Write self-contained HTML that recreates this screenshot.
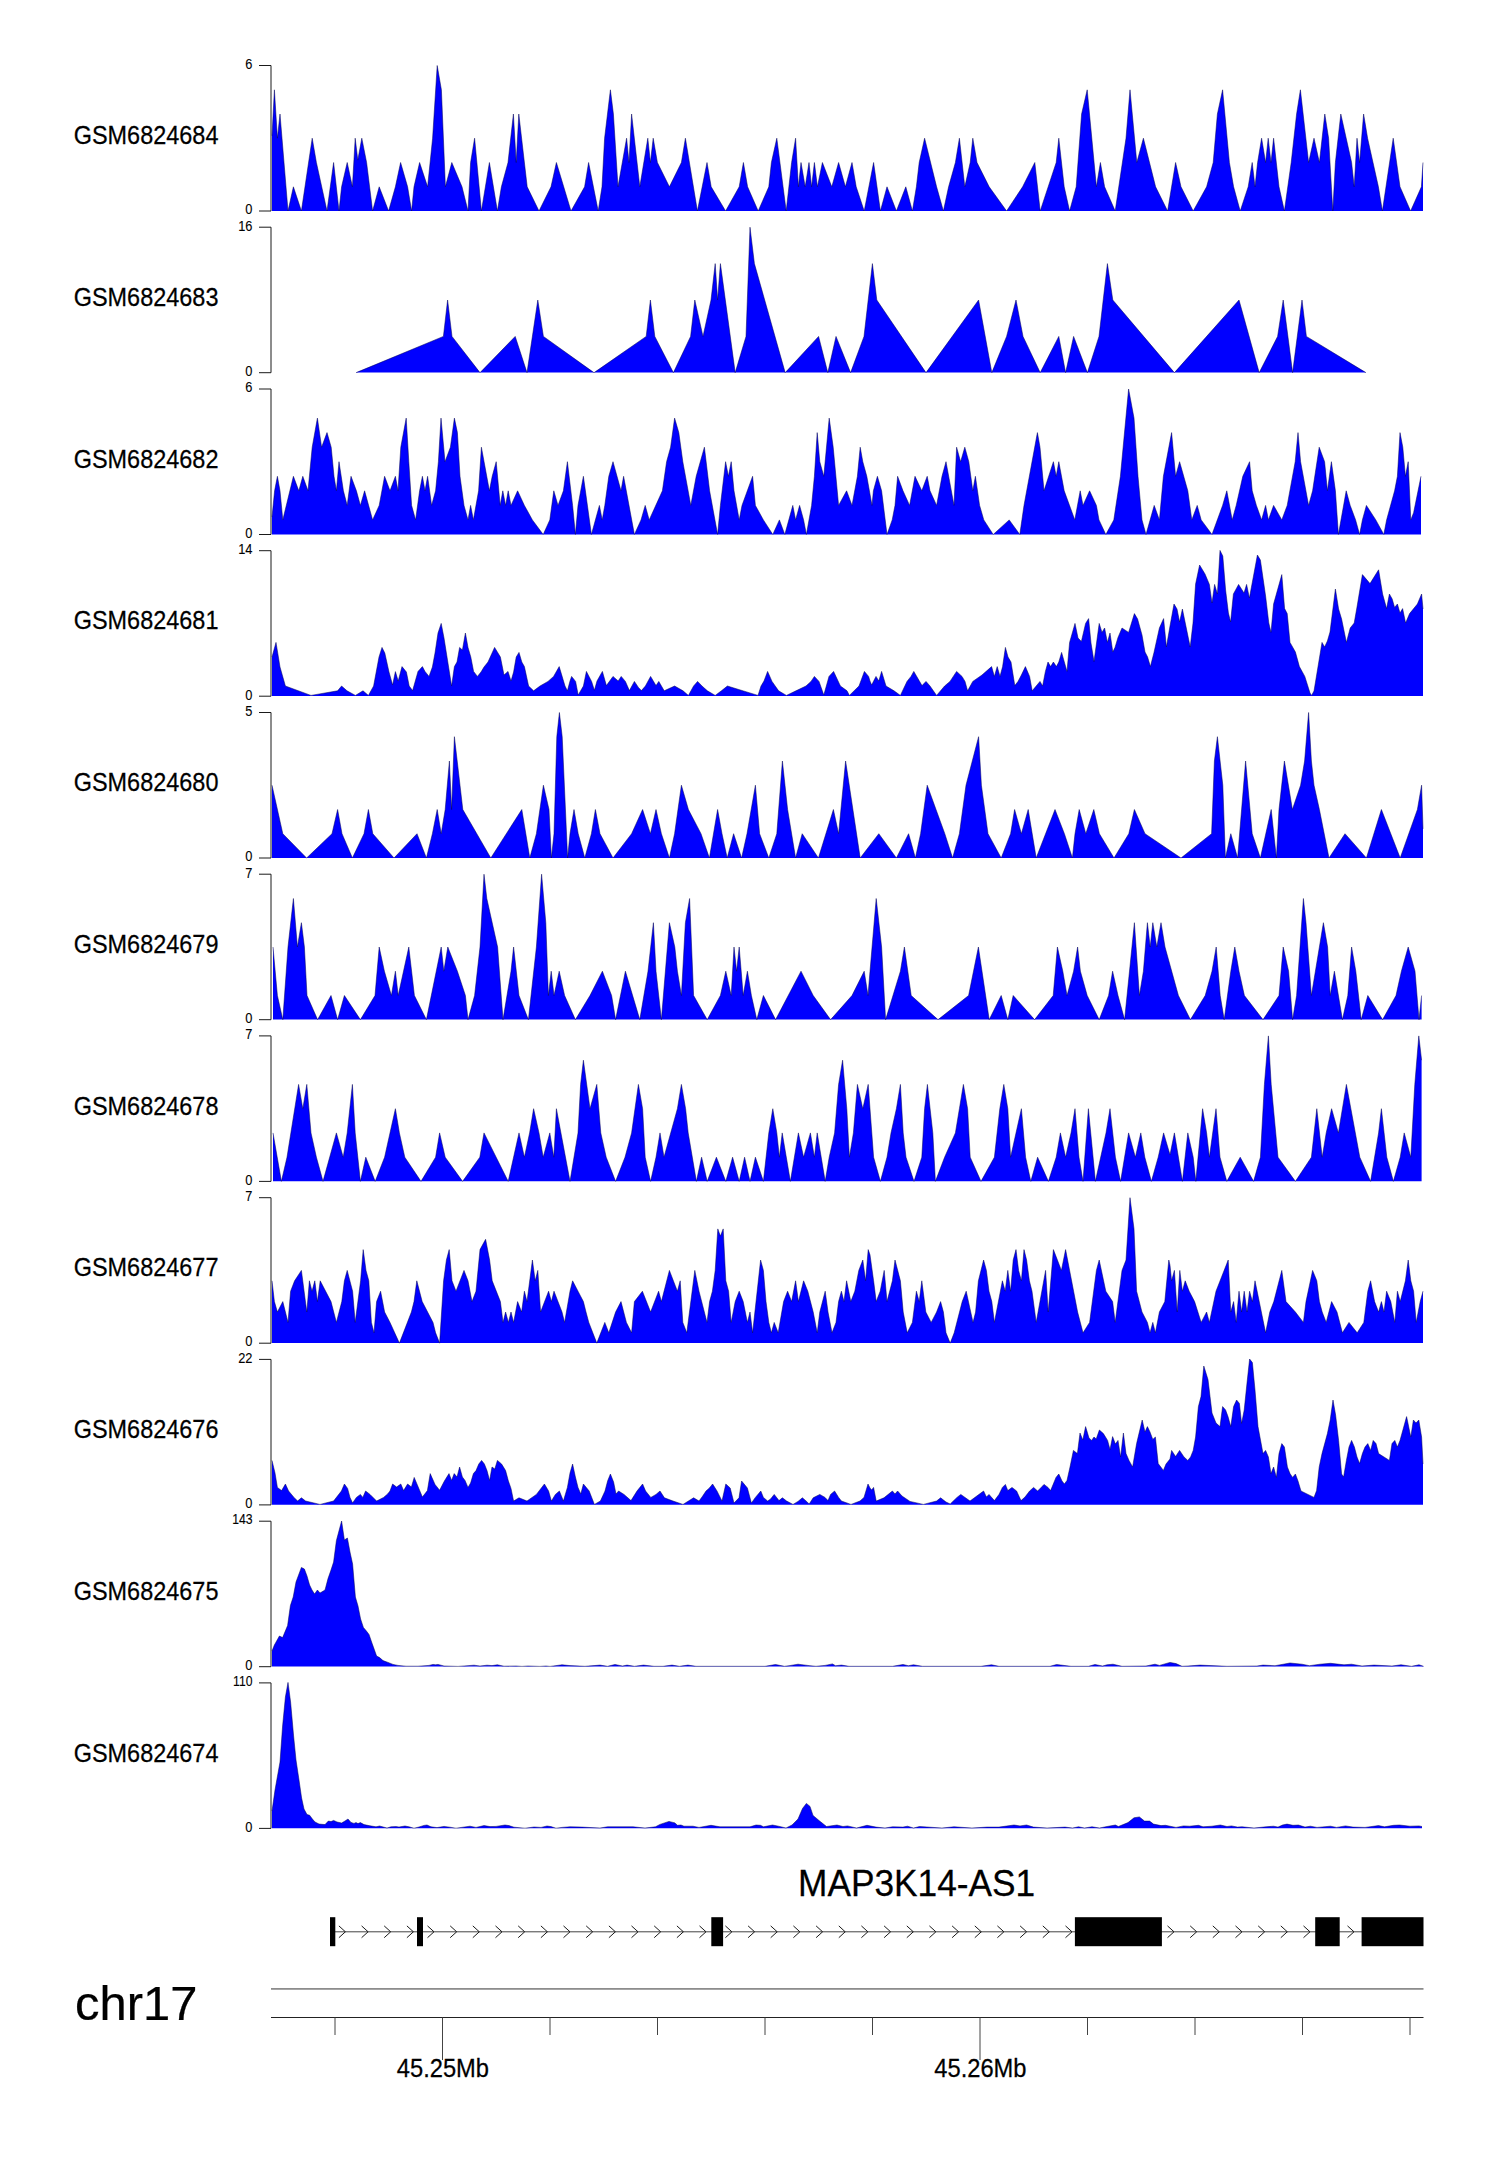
<!DOCTYPE html>
<html><head><meta charset="utf-8"><title>tracks</title>
<style>
html,body{margin:0;padding:0;background:#fff}
svg{display:block}
text{font-family:"Liberation Sans",sans-serif;fill:#000;stroke:#000;stroke-width:0.25px}
.sm{stroke-width:0.1px}
.ax{stroke:#1a1a1a;stroke-width:1;fill:none}
.sig{fill:#0000ff;stroke:none}
.ln{fill:none;stroke:#000050;stroke-width:0.5;stroke-linejoin:bevel}
</style></head><body>
<svg width="1500" height="2170" viewBox="0 0 1500 2170">
<rect width="1500" height="2170" fill="#fff"/>
<polygon class="sig" points="272,210.9 272,135.8 274.4,89.8 277.4,138.2 280,114 288,210.9 293.4,186.8 301.4,210.9 312.2,138.2 316.4,162.5 327,210.9 333.6,162.5 339,210.9 341.6,186.8 347.2,162.5 352.4,186.8 355.2,138.2 357.8,160.1 361.8,138.2 366.6,162.5 372.6,210.9 379.2,186.8 388.6,210.9 395.4,186.8 400.6,162.5 407.6,186.8 411.6,210.9 414,186.8 419.6,162.5 427.6,186.8 432.6,138.2 437.2,65.5 441.4,89.8 445.4,186.8 451.8,162.5 462,186.8 468,210.9 470.6,162.5 474.6,138.2 481.4,210.9 489.4,162.5 497.4,210.9 501.4,186.8 508,162.5 513.4,114 516.2,162.5 518.8,114 527.2,186.8 539,210.9 551,186.8 556.4,162.5 571,210.9 584.6,186.8 588.6,162.5 598.2,210.9 602,186.8 604.6,138.2 610.4,89.8 613.4,114 618,186.8 626.6,138.2 629,162.5 631.6,114 639.8,186.8 647.8,138.2 650.4,162.5 653.2,138.2 657.4,162.5 669.4,186.8 681.4,162.5 685.4,138.2 697.4,210.9 707,162.5 711.2,186.8 725.6,210.9 739.2,186.8 743.4,162.5 747.6,186.8 758.2,210.9 768.8,186.8 771.4,162.5 776.8,138.2 786.2,210.9 791.6,162.5 795.6,138.2 798.4,186.8 801,162.5 805.2,186.8 809,162.5 811.6,186.8 814.4,162.5 817.4,186.8 822.4,162.5 831.8,186.8 838.6,162.5 845.4,186.8 852,162.5 856.2,186.8 864.2,210.9 873.6,162.5 880.4,210.9 887,186.8 896.4,210.9 905.8,186.8 912.4,210.9 916.4,186.8 919.2,162.5 924.6,138.2 936.6,186.8 943.4,210.9 948.6,186.8 955.4,162.5 959.4,138.2 964.8,186.8 970.2,162.5 972.8,138.2 977,162.5 989.2,186.8 1006.6,210.9 1022.6,186.8 1034.8,162.5 1040.2,210.9 1056.2,162.5 1058.8,138.2 1064.2,186.8 1069.6,210.9 1076.2,186.8 1081.6,114 1087.2,89.8 1096.4,186.8 1100.4,162.5 1104.6,186.8 1115.2,210.9 1126,138.2 1130,89.8 1136.8,162.5 1143.4,138.2 1155.6,186.8 1167.6,210.9 1175.6,162.5 1181,186.8 1193.2,210.9 1206.6,186.8 1213.2,162.5 1217.4,114 1222.6,89.8 1229.4,162.5 1233.6,186.8 1240.2,210.9 1248.2,186.8 1252.2,162.5 1255,186.8 1257.6,162.5 1261.6,138.2 1265.6,162.5 1268.2,138.2 1271,162.5 1273.6,138.2 1279,186.8 1284.4,210.9 1291.2,162.5 1296.6,114 1300.4,89.8 1308.6,162.5 1314,138.2 1319.4,162.5 1324.8,114 1328.6,138.2 1332.8,210.9 1335.4,162.5 1340.8,114 1351.6,162.5 1354.2,186.8 1357,138.2 1359.6,162.5 1363.6,114 1367.6,138.2 1378.4,186.8 1382.4,210.9 1393.2,138.2 1400,186.8 1410.6,210.9 1421.4,186.8 1423,162.5 1423,210.9"/>
<polyline class="ln" points="272,135.8 274.4,89.8 277.4,138.2 280,114 288,211 293.4,186.8 301.4,211 312.2,138.2 316.4,162.5 327,211 333.6,162.5 339,211 341.6,186.8 347.2,162.5 352.4,186.8 355.2,138.2 357.8,160.1 361.8,138.2 366.6,162.5 372.6,211 379.2,186.8 388.6,211 395.4,186.8 400.6,162.5 407.6,186.8 411.6,211 414,186.8 419.6,162.5 427.6,186.8 432.6,138.2 437.2,65.5 441.4,89.8 445.4,186.8 451.8,162.5 462,186.8 468,211 470.6,162.5 474.6,138.2 481.4,211 489.4,162.5 497.4,211 501.4,186.8 508,162.5 513.4,114 516.2,162.5 518.8,114 527.2,186.8 539,211 551,186.8 556.4,162.5 571,211 584.6,186.8 588.6,162.5 598.2,211 602,186.8 604.6,138.2 610.4,89.8 613.4,114 618,186.8 626.6,138.2 629,162.5 631.6,114 639.8,186.8 647.8,138.2 650.4,162.5 653.2,138.2 657.4,162.5 669.4,186.8 681.4,162.5 685.4,138.2 697.4,211 707,162.5 711.2,186.8 725.6,211 739.2,186.8 743.4,162.5 747.6,186.8 758.2,211 768.8,186.8 771.4,162.5 776.8,138.2 786.2,211 791.6,162.5 795.6,138.2 798.4,186.8 801,162.5 805.2,186.8 809,162.5 811.6,186.8 814.4,162.5 817.4,186.8 822.4,162.5 831.8,186.8 838.6,162.5 845.4,186.8 852,162.5 856.2,186.8 864.2,211 873.6,162.5 880.4,211 887,186.8 896.4,211 905.8,186.8 912.4,211 916.4,186.8 919.2,162.5 924.6,138.2 936.6,186.8 943.4,211 948.6,186.8 955.4,162.5 959.4,138.2 964.8,186.8 970.2,162.5 972.8,138.2 977,162.5 989.2,186.8 1006.6,211 1022.6,186.8 1034.8,162.5 1040.2,211 1056.2,162.5 1058.8,138.2 1064.2,186.8 1069.6,211 1076.2,186.8 1081.6,114 1087.2,89.8 1096.4,186.8 1100.4,162.5 1104.6,186.8 1115.2,211 1126,138.2 1130,89.8 1136.8,162.5 1143.4,138.2 1155.6,186.8 1167.6,211 1175.6,162.5 1181,186.8 1193.2,211 1206.6,186.8 1213.2,162.5 1217.4,114 1222.6,89.8 1229.4,162.5 1233.6,186.8 1240.2,211 1248.2,186.8 1252.2,162.5 1255,186.8 1257.6,162.5 1261.6,138.2 1265.6,162.5 1268.2,138.2 1271,162.5 1273.6,138.2 1279,186.8 1284.4,211 1291.2,162.5 1296.6,114 1300.4,89.8 1308.6,162.5 1314,138.2 1319.4,162.5 1324.8,114 1328.6,138.2 1332.8,211 1335.4,162.5 1340.8,114 1351.6,162.5 1354.2,186.8 1357,138.2 1359.6,162.5 1363.6,114 1367.6,138.2 1378.4,186.8 1382.4,211 1393.2,138.2 1400,186.8 1410.6,211 1421.4,186.8 1423,162.5"/>
<path class="ax" d="M259 65.5 H271 V211 H259"/>
<text class="sm" transform="translate(252.5 68.8) scale(0.93 1)" font-size="13.8" text-anchor="end">6</text>
<text class="sm" transform="translate(252.5 214.3) scale(0.93 1)" font-size="13.8" text-anchor="end">0</text>
<text transform="translate(73.7 144.25) scale(0.911 1)" font-size="25.75" text-anchor="start">GSM6824684</text>
<polygon class="sig" points="356,372.6 443.4,336.4 447.6,300 452,336.4 480,372.6 515.2,336.4 527,372.6 537.8,300 543.4,336.4 594,372.6 646.2,336.4 650.4,300 654.8,336.4 673.4,372.6 690.6,336.4 694.8,300 703,336.4 711,300 715.2,263.6 717.6,300 720.4,263.6 735.2,372.6 746,336.4 750,227.2 754.4,263.6 785.2,372.6 818.6,336.4 827.8,372.6 836,336.4 850.6,372.6 864,336.4 872.4,263.6 876.8,300 926,372.6 978.6,300 991.8,372.6 1006.6,336.4 1016,300 1023,336.4 1040.2,372.6 1058.8,336.4 1065.6,372.6 1073.6,336.4 1087.4,372.6 1099,336.4 1107.4,263.6 1112.8,300 1174.4,372.6 1239,300 1259.2,372.6 1277.6,336.4 1283.2,300 1292.6,372.6 1302,300 1306.4,336.4 1366,372.6"/>
<polyline class="ln" points="356,372.7 443.4,336.4 447.6,300 452,336.4 480,372.7 515.2,336.4 527,372.7 537.8,300 543.4,336.4 594,372.7 646.2,336.4 650.4,300 654.8,336.4 673.4,372.7 690.6,336.4 694.8,300 703,336.4 711,300 715.2,263.6 717.6,300 720.4,263.6 735.2,372.7 746,336.4 750,227.2 754.4,263.6 785.2,372.7 818.6,336.4 827.8,372.7 836,336.4 850.6,372.7 864,336.4 872.4,263.6 876.8,300 926,372.7 978.6,300 991.8,372.7 1006.6,336.4 1016,300 1023,336.4 1040.2,372.7 1058.8,336.4 1065.6,372.7 1073.6,336.4 1087.4,372.7 1099,336.4 1107.4,263.6 1112.8,300 1174.4,372.7 1239,300 1259.2,372.7 1277.6,336.4 1283.2,300 1292.6,372.7 1302,300 1306.4,336.4 1366,372.7"/>
<path class="ax" d="M259 227.2 H271 V372.7 H259"/>
<text class="sm" transform="translate(252.5 230.54) scale(0.93 1)" font-size="13.8" text-anchor="end">16</text>
<text class="sm" transform="translate(252.5 376.04) scale(0.93 1)" font-size="13.8" text-anchor="end">0</text>
<text transform="translate(73.7 305.99) scale(0.911 1)" font-size="25.75" text-anchor="start">GSM6824683</text>
<polygon class="sig" points="272,534.4 272,517 274.6,490.8 277.4,476.3 280,490.8 282.8,519.9 293.4,476.3 298.8,490.8 302.8,476.3 308,490.8 312.2,447.2 317.4,418.1 321.6,447.2 327,432.6 331.2,447.2 334,476.3 336.4,490.8 339,461.7 343.4,490.8 347.2,505.4 351,476.3 356.4,490.8 360.4,505.4 364.6,490.8 372.6,519.9 379.2,505.4 384.6,476.3 390,490.8 395.4,476.3 398,490.8 400.8,447.2 406.2,418.1 408.8,461.7 411.6,505.4 415.6,519.9 419.6,490.8 422.4,476.3 425,490.8 427.6,476.3 431.6,505.4 435.6,490.8 438.4,461.7 441,418.1 445,461.7 450.4,447.2 454.4,418.1 457.4,432.6 460,476.3 464,505.4 468,519.9 470.6,505.4 473.4,519.9 478.6,490.8 481.4,447.2 489.4,490.8 492.2,476.3 496.2,461.7 500.2,505.4 502.8,490.8 505.6,505.4 508.2,490.8 511,505.4 517.6,490.8 524.4,505.4 532.4,519.9 543.2,534.4 549.8,519.9 553.8,490.8 558,505.4 563.4,490.8 567.4,461.7 572.6,505.4 575.4,534.4 578,505.4 583.4,476.3 591.4,534.4 599.4,505.4 602.2,519.9 604.8,505.4 608.8,476.3 613,461.7 621,490.8 623.6,476.3 634.4,534.4 641,519.9 645.2,505.4 649.2,519.9 662.4,490.8 666.6,461.7 670.6,447.2 674.6,418.1 678.8,432.6 682.8,461.7 690.8,505.4 696.2,476.3 704.4,447.2 709.6,490.8 717.6,534.4 720.4,505.4 725.6,461.7 728.4,476.3 731.2,461.7 734,490.8 739.2,519.9 742,505.4 752.6,476.3 755.4,505.4 763.4,519.9 772.8,534.4 779.4,519.9 784.8,534.4 792.8,505.4 795.6,519.9 799.6,505.4 803.6,519.9 806.4,534.4 811.6,505.4 814.4,476.3 817.2,432.6 819.8,461.7 823.8,476.3 829.2,418.1 833.2,447.2 838.6,505.4 846.6,490.8 852,505.4 857.4,476.3 860.2,447.2 862.8,461.7 866.8,476.3 872,505.4 873.4,490.8 877.4,476.3 881.6,490.8 887,534.4 892.2,519.9 895,505.4 897.6,476.3 903,490.8 909.6,505.4 915,476.3 921.8,490.8 927.2,476.3 930,490.8 936.6,505.4 942,476.3 946,461.7 954,505.4 956.6,447.2 960.6,461.7 964.8,447.2 968.8,461.7 972.8,490.8 975.4,476.3 979.6,505.4 983.8,519.9 993.2,534.4 1009.2,519.9 1019.8,534.4 1024,505.4 1037.4,432.6 1040,447.2 1044,490.8 1053.4,461.7 1056.2,476.3 1058.8,461.7 1064.2,490.8 1074.8,519.9 1080.2,490.8 1083,505.4 1089.6,490.8 1096.4,505.4 1099,519.9 1105.8,534.4 1113.8,519.9 1120.4,476.3 1128.6,389 1134,418.1 1138,476.3 1142,519.9 1146,534.4 1154.2,505.4 1159.4,519.9 1163.4,476.3 1171.6,432.6 1175.6,476.3 1179.6,461.7 1187.8,490.8 1191.8,519.9 1197.2,505.4 1201.2,519.9 1212,534.4 1222.6,505.4 1226.8,490.8 1232.2,519.9 1236.2,505.4 1242.8,476.3 1249.6,461.7 1252.2,490.8 1256.4,505.4 1261.6,519.9 1265.6,505.4 1268.4,519.9 1273.6,505.4 1281.8,519.9 1287.2,505.4 1295.2,461.7 1298,432.6 1300.6,461.7 1308.6,505.4 1312.6,490.8 1319.2,447.2 1324.6,461.7 1327.4,490.8 1331.4,461.7 1335.4,490.8 1338.4,534.4 1346.2,490.8 1350.2,505.4 1355.6,519.9 1359.6,534.4 1362.4,519.9 1366.4,505.4 1375.8,519.9 1383.8,534.4 1386.6,519.9 1394.6,490.8 1397.4,476.3 1400,432.6 1402.8,447.2 1405.4,476.3 1408.2,461.7 1410.8,519.9 1413.6,512.7 1421,476.3 1421,534.4"/>
<polyline class="ln" points="272,517 274.6,490.8 277.4,476.3 280,490.8 282.8,519.9 293.4,476.3 298.8,490.8 302.8,476.3 308,490.8 312.2,447.2 317.4,418.1 321.6,447.2 327,432.6 331.2,447.2 334,476.3 336.4,490.8 339,461.7 343.4,490.8 347.2,505.4 351,476.3 356.4,490.8 360.4,505.4 364.6,490.8 372.6,519.9 379.2,505.4 384.6,476.3 390,490.8 395.4,476.3 398,490.8 400.8,447.2 406.2,418.1 408.8,461.7 411.6,505.4 415.6,519.9 419.6,490.8 422.4,476.3 425,490.8 427.6,476.3 431.6,505.4 435.6,490.8 438.4,461.7 441,418.1 445,461.7 450.4,447.2 454.4,418.1 457.4,432.6 460,476.3 464,505.4 468,519.9 470.6,505.4 473.4,519.9 478.6,490.8 481.4,447.2 489.4,490.8 492.2,476.3 496.2,461.7 500.2,505.4 502.8,490.8 505.6,505.4 508.2,490.8 511,505.4 517.6,490.8 524.4,505.4 532.4,519.9 543.2,534.5 549.8,519.9 553.8,490.8 558,505.4 563.4,490.8 567.4,461.7 572.6,505.4 575.4,534.5 578,505.4 583.4,476.3 591.4,534.5 599.4,505.4 602.2,519.9 604.8,505.4 608.8,476.3 613,461.7 621,490.8 623.6,476.3 634.4,534.5 641,519.9 645.2,505.4 649.2,519.9 662.4,490.8 666.6,461.7 670.6,447.2 674.6,418.1 678.8,432.6 682.8,461.7 690.8,505.4 696.2,476.3 704.4,447.2 709.6,490.8 717.6,534.5 720.4,505.4 725.6,461.7 728.4,476.3 731.2,461.7 734,490.8 739.2,519.9 742,505.4 752.6,476.3 755.4,505.4 763.4,519.9 772.8,534.5 779.4,519.9 784.8,534.5 792.8,505.4 795.6,519.9 799.6,505.4 803.6,519.9 806.4,534.5 811.6,505.4 814.4,476.3 817.2,432.6 819.8,461.7 823.8,476.3 829.2,418.1 833.2,447.2 838.6,505.4 846.6,490.8 852,505.4 857.4,476.3 860.2,447.2 862.8,461.7 866.8,476.3 872,505.4 873.4,490.8 877.4,476.3 881.6,490.8 887,534.5 892.2,519.9 895,505.4 897.6,476.3 903,490.8 909.6,505.4 915,476.3 921.8,490.8 927.2,476.3 930,490.8 936.6,505.4 942,476.3 946,461.7 954,505.4 956.6,447.2 960.6,461.7 964.8,447.2 968.8,461.7 972.8,490.8 975.4,476.3 979.6,505.4 983.8,519.9 993.2,534.5 1009.2,519.9 1019.8,534.5 1024,505.4 1037.4,432.6 1040,447.2 1044,490.8 1053.4,461.7 1056.2,476.3 1058.8,461.7 1064.2,490.8 1074.8,519.9 1080.2,490.8 1083,505.4 1089.6,490.8 1096.4,505.4 1099,519.9 1105.8,534.5 1113.8,519.9 1120.4,476.3 1128.6,389 1134,418.1 1138,476.3 1142,519.9 1146,534.5 1154.2,505.4 1159.4,519.9 1163.4,476.3 1171.6,432.6 1175.6,476.3 1179.6,461.7 1187.8,490.8 1191.8,519.9 1197.2,505.4 1201.2,519.9 1212,534.5 1222.6,505.4 1226.8,490.8 1232.2,519.9 1236.2,505.4 1242.8,476.3 1249.6,461.7 1252.2,490.8 1256.4,505.4 1261.6,519.9 1265.6,505.4 1268.4,519.9 1273.6,505.4 1281.8,519.9 1287.2,505.4 1295.2,461.7 1298,432.6 1300.6,461.7 1308.6,505.4 1312.6,490.8 1319.2,447.2 1324.6,461.7 1327.4,490.8 1331.4,461.7 1335.4,490.8 1338.4,534.5 1346.2,490.8 1350.2,505.4 1355.6,519.9 1359.6,534.5 1362.4,519.9 1366.4,505.4 1375.8,519.9 1383.8,534.5 1386.6,519.9 1394.6,490.8 1397.4,476.3 1400,432.6 1402.8,447.2 1405.4,476.3 1408.2,461.7 1410.8,519.9 1413.6,512.7 1421,476.3"/>
<path class="ax" d="M259 389 H271 V534.5 H259"/>
<text class="sm" transform="translate(252.5 392.28) scale(0.93 1)" font-size="13.8" text-anchor="end">6</text>
<text class="sm" transform="translate(252.5 537.78) scale(0.93 1)" font-size="13.8" text-anchor="end">0</text>
<text transform="translate(73.7 467.73) scale(0.911 1)" font-size="25.75" text-anchor="start">GSM6824682</text>
<polygon class="sig" points="272,696.1 272,657 276,642.4 280,667 285.4,686 311,695.4 337.6,690.8 341.6,686 347,690.8 355.4,695.4 363,690.8 368.4,695.4 373.6,686 379,657 382,647.4 384.8,653 389,672 392.6,685 395.4,671.6 398.2,681 402,666.6 406.4,672 409.2,686 412.6,690.6 418,671.4 422.4,666.6 425,671.4 429,676.4 432.4,667 435,653 438,633 441.2,623.4 444,638 451.6,686 454.4,666.6 457,662 459.6,647.4 462.4,650 465.4,633 468,647.4 470.8,657 473.6,671.4 477.4,676.4 481,672 484,667 488,662 494.6,647.4 500.4,657 504,675 508,671.4 511,681 513.6,672 516.2,657 519,652.4 521.8,662 524.4,666.6 528.6,686 533.6,690.8 540,686 548,681.4 553.6,676.4 559.2,666.6 565,686 567.4,690.8 570,681 571.6,676.4 575.6,681.4 578.2,695 583.4,686 586.4,671.4 591.6,681.4 594.4,690.2 597,681 602.4,671.4 606.4,685.6 613,676.4 618.2,681 621.2,676.4 625.4,681.4 629.4,690.6 634.4,681.4 638.4,687.4 641.4,690.6 645.4,686 650.6,676.4 656,685.6 658.8,681.4 664.2,690.8 674.6,686 683,690.8 688.4,695.4 693.6,686 697.6,681.4 702,686 707.4,690.8 715.2,695.4 721.4,690.8 727.4,686 758,695.4 761,686 764,681 767.6,671.4 772,681.4 778.6,690.8 786.4,695.4 796,690.8 806,686 811,681.4 814.4,676.4 819,681.4 823.8,695 829,676.4 833.6,671.4 840.4,686 847,690.8 849.4,695.4 859,686 864.4,671.4 868.6,676.4 870,681 871.6,685 876,676.4 878.8,681 881.6,671.4 886,686 894,690.8 900.4,695.4 907,681.4 911,676.4 913.8,671.4 922,685.6 926,681.4 930,686 936.6,695.4 944.6,686 950,681.4 956.6,671.4 962,676.4 965,681.4 967.6,690.8 972.8,681.4 982,675 991.6,666.6 994.4,676.4 997.2,666.6 1000,676.4 1002.6,666.6 1005.4,647.4 1008,657 1011,662 1014.8,685.6 1018,681.4 1021.4,675 1025.4,666.6 1029.6,676.4 1032.2,690.8 1040,681.4 1042.6,686 1045.4,671.4 1048,662 1050.6,666.6 1053.4,662 1056.4,666.6 1058.8,662 1061.6,652.4 1067,671.4 1069.6,642.4 1075,623.4 1078,638 1081.4,641.4 1085.6,623.4 1088.6,618.6 1091,643 1094,661.6 1099.2,623.4 1102,632.4 1104.6,628 1107.4,642.4 1110,633 1112.8,652 1115,647.4 1118,637.4 1122,628 1128.6,632.4 1134.4,613.6 1137.6,619 1142,635 1145,652 1147.6,657 1150.4,666.6 1154,652.4 1159.4,628 1163.6,618.6 1166.4,647 1170,626 1174,604 1177,609 1179.6,622 1182.4,609 1190.2,647 1193,623 1195.6,584 1199.6,565 1205,574 1209.4,584.4 1212,603 1214.6,584.4 1217.4,594 1220,550.4 1222.8,556 1225.6,590 1228.4,613 1230.6,622 1233.4,594 1238.6,584.4 1244,593 1246.6,584.4 1249.4,598 1257.4,555 1260.4,560 1265.6,596 1268.8,623 1271,632.4 1273.6,604 1281.8,574.6 1284.6,608.6 1287.2,613.6 1290,642.4 1295.4,652 1299.4,666.6 1304.8,676.4 1310,693 1311.6,695.4 1314,691 1322,642.4 1324.6,647 1327.4,641 1330,632 1335.4,589 1338.6,609 1341.6,619 1346.4,642.4 1350.2,628 1354.2,623 1357,607 1362.4,574.6 1370,583.6 1378.6,569.8 1382.6,594 1386.6,608.6 1389.4,594 1392.2,599 1394.6,607.4 1397.4,604 1400,613 1402.6,608.6 1405.6,623 1409.6,613.6 1417.4,604 1421.6,594 1423,609 1423,696.1"/>
<polyline class="ln" points="272,657 276,642.4 280,667 285.4,686 311,695.4 337.6,690.8 341.6,686 347,690.8 355.4,695.4 363,690.8 368.4,695.4 373.6,686 379,657 382,647.4 384.8,653 389,672 392.6,685 395.4,671.6 398.2,681 402,666.6 406.4,672 409.2,686 412.6,690.6 418,671.4 422.4,666.6 425,671.4 429,676.4 432.4,667 435,653 438,633 441.2,623.4 444,638 451.6,686 454.4,666.6 457,662 459.6,647.4 462.4,650 465.4,633 468,647.4 470.8,657 473.6,671.4 477.4,676.4 481,672 484,667 488,662 494.6,647.4 500.4,657 504,675 508,671.4 511,681 513.6,672 516.2,657 519,652.4 521.8,662 524.4,666.6 528.6,686 533.6,690.8 540,686 548,681.4 553.6,676.4 559.2,666.6 565,686 567.4,690.8 570,681 571.6,676.4 575.6,681.4 578.2,695 583.4,686 586.4,671.4 591.6,681.4 594.4,690.2 597,681 602.4,671.4 606.4,685.6 613,676.4 618.2,681 621.2,676.4 625.4,681.4 629.4,690.6 634.4,681.4 638.4,687.4 641.4,690.6 645.4,686 650.6,676.4 656,685.6 658.8,681.4 664.2,690.8 674.6,686 683,690.8 688.4,695.4 693.6,686 697.6,681.4 702,686 707.4,690.8 715.2,695.4 721.4,690.8 727.4,686 758,695.4 761,686 764,681 767.6,671.4 772,681.4 778.6,690.8 786.4,695.4 796,690.8 806,686 811,681.4 814.4,676.4 819,681.4 823.8,695 829,676.4 833.6,671.4 840.4,686 847,690.8 849.4,695.4 859,686 864.4,671.4 868.6,676.4 870,681 871.6,685 876,676.4 878.8,681 881.6,671.4 886,686 894,690.8 900.4,695.4 907,681.4 911,676.4 913.8,671.4 922,685.6 926,681.4 930,686 936.6,695.4 944.6,686 950,681.4 956.6,671.4 962,676.4 965,681.4 967.6,690.8 972.8,681.4 982,675 991.6,666.6 994.4,676.4 997.2,666.6 1000,676.4 1002.6,666.6 1005.4,647.4 1008,657 1011,662 1014.8,685.6 1018,681.4 1021.4,675 1025.4,666.6 1029.6,676.4 1032.2,690.8 1040,681.4 1042.6,686 1045.4,671.4 1048,662 1050.6,666.6 1053.4,662 1056.4,666.6 1058.8,662 1061.6,652.4 1067,671.4 1069.6,642.4 1075,623.4 1078,638 1081.4,641.4 1085.6,623.4 1088.6,618.6 1091,643 1094,661.6 1099.2,623.4 1102,632.4 1104.6,628 1107.4,642.4 1110,633 1112.8,652 1115,647.4 1118,637.4 1122,628 1128.6,632.4 1134.4,613.6 1137.6,619 1142,635 1145,652 1147.6,657 1150.4,666.6 1154,652.4 1159.4,628 1163.6,618.6 1166.4,647 1170,626 1174,604 1177,609 1179.6,622 1182.4,609 1190.2,647 1193,623 1195.6,584 1199.6,565 1205,574 1209.4,584.4 1212,603 1214.6,584.4 1217.4,594 1220,550.4 1222.8,556 1225.6,590 1228.4,613 1230.6,622 1233.4,594 1238.6,584.4 1244,593 1246.6,584.4 1249.4,598 1257.4,555 1260.4,560 1265.6,596 1268.8,623 1271,632.4 1273.6,604 1281.8,574.6 1284.6,608.6 1287.2,613.6 1290,642.4 1295.4,652 1299.4,666.6 1304.8,676.4 1310,693 1311.6,695.4 1314,691 1322,642.4 1324.6,647 1327.4,641 1330,632 1335.4,589 1338.6,609 1341.6,619 1346.4,642.4 1350.2,628 1354.2,623 1357,607 1362.4,574.6 1370,583.6 1378.6,569.8 1382.6,594 1386.6,608.6 1389.4,594 1392.2,599 1394.6,607.4 1397.4,604 1400,613 1402.6,608.6 1405.6,623 1409.6,613.6 1417.4,604 1421.6,594 1423,609"/>
<path class="ax" d="M259 550.7 H271 V696.2 H259"/>
<text class="sm" transform="translate(252.5 554.02) scale(0.93 1)" font-size="13.8" text-anchor="end">14</text>
<text class="sm" transform="translate(252.5 699.52) scale(0.93 1)" font-size="13.8" text-anchor="end">0</text>
<text transform="translate(73.7 629.47) scale(0.911 1)" font-size="25.75" text-anchor="start">GSM6824681</text>
<polygon class="sig" points="272,857.9 272,785.2 282.8,833.7 306.6,857.9 332,833.7 337.6,809.5 342,833.7 352.4,857.9 364,833.7 368.4,809.5 372.8,833.7 394,857.9 417,833.7 426.4,857.9 432.4,833.7 437.2,809.5 441.2,833.7 445.2,809.5 449.4,761 451.6,809.5 454.4,736.7 462.8,809.5 490.8,857.9 521.8,809.5 529.8,857.9 536.4,833.7 543.4,785.2 549,809.5 551.4,857.9 554,833.7 556.8,736.7 559.4,712.5 562.2,736.7 567.6,857.9 570,833.7 574,809.5 578.2,833.7 584.8,857.9 591.4,833.7 595.4,809.5 600,833.7 613,857.9 631.6,833.7 642.6,809.5 650.4,833.7 656,809.5 661.4,833.7 669.4,857.9 674.6,833.7 681.4,785.2 688.4,809.5 701,833.7 709.4,857.9 717.6,809.5 722,833.7 727.2,857.9 733.6,833.7 741.6,857.9 747,833.7 755.4,785.2 759.6,833.7 768.8,857.9 776.8,833.7 782.4,761 787.6,809.5 795.6,857.9 802.2,833.7 818.4,857.9 833.4,809.5 838.6,833.7 845.6,761 860.2,857.9 878.8,833.7 896.4,857.9 908.6,833.7 915.4,857.9 920.6,833.7 927.2,785.2 936,809.5 944.8,833.7 952.6,857.9 959.4,833.7 966,785.2 978.6,736.7 981.4,785.2 988,833.7 1001.2,857.9 1010.6,833.7 1014.6,809.5 1021.4,833.7 1028.2,809.5 1036.2,857.9 1055,809.5 1064.4,833.7 1072.4,857.9 1075,833.7 1079.2,809.5 1085.8,833.7 1093.8,809.5 1099.4,833.7 1114,857.9 1128.8,833.7 1134.4,809.5 1145,833.7 1181,857.9 1211.6,833.7 1214.4,761 1217.4,736.7 1222.8,785.2 1225.4,857.9 1230.8,833.7 1237.6,857.9 1245.6,761 1252.2,833.7 1260.4,857.9 1271.2,809.5 1276.4,857.9 1279,809.5 1284.4,761 1292.4,809.5 1300.6,785.2 1304.6,761 1308.6,712.5 1311.4,761 1314,785.2 1319.4,809.5 1329,857.9 1345,833.7 1366.4,857.9 1381.4,809.5 1400.2,857.9 1417.4,809.5 1421.6,785.2 1423,828.9 1423,857.9"/>
<polyline class="ln" points="272,785.2 282.8,833.7 306.6,858 332,833.7 337.6,809.5 342,833.7 352.4,858 364,833.7 368.4,809.5 372.8,833.7 394,858 417,833.7 426.4,858 432.4,833.7 437.2,809.5 441.2,833.7 445.2,809.5 449.4,761 451.6,809.5 454.4,736.7 462.8,809.5 490.8,858 521.8,809.5 529.8,858 536.4,833.7 543.4,785.2 549,809.5 551.4,858 554,833.7 556.8,736.7 559.4,712.5 562.2,736.7 567.6,858 570,833.7 574,809.5 578.2,833.7 584.8,858 591.4,833.7 595.4,809.5 600,833.7 613,858 631.6,833.7 642.6,809.5 650.4,833.7 656,809.5 661.4,833.7 669.4,858 674.6,833.7 681.4,785.2 688.4,809.5 701,833.7 709.4,858 717.6,809.5 722,833.7 727.2,858 733.6,833.7 741.6,858 747,833.7 755.4,785.2 759.6,833.7 768.8,858 776.8,833.7 782.4,761 787.6,809.5 795.6,858 802.2,833.7 818.4,858 833.4,809.5 838.6,833.7 845.6,761 860.2,858 878.8,833.7 896.4,858 908.6,833.7 915.4,858 920.6,833.7 927.2,785.2 936,809.5 944.8,833.7 952.6,858 959.4,833.7 966,785.2 978.6,736.7 981.4,785.2 988,833.7 1001.2,858 1010.6,833.7 1014.6,809.5 1021.4,833.7 1028.2,809.5 1036.2,858 1055,809.5 1064.4,833.7 1072.4,858 1075,833.7 1079.2,809.5 1085.8,833.7 1093.8,809.5 1099.4,833.7 1114,858 1128.8,833.7 1134.4,809.5 1145,833.7 1181,858 1211.6,833.7 1214.4,761 1217.4,736.7 1222.8,785.2 1225.4,858 1230.8,833.7 1237.6,858 1245.6,761 1252.2,833.7 1260.4,858 1271.2,809.5 1276.4,858 1279,809.5 1284.4,761 1292.4,809.5 1300.6,785.2 1304.6,761 1308.6,712.5 1311.4,761 1314,785.2 1319.4,809.5 1329,858 1345,833.7 1366.4,858 1381.4,809.5 1400.2,858 1417.4,809.5 1421.6,785.2 1423,828.9"/>
<path class="ax" d="M259 712.5 H271 V858 H259"/>
<text class="sm" transform="translate(252.5 715.76) scale(0.93 1)" font-size="13.8" text-anchor="end">5</text>
<text class="sm" transform="translate(252.5 861.26) scale(0.93 1)" font-size="13.8" text-anchor="end">0</text>
<text transform="translate(73.7 791.21) scale(0.911 1)" font-size="25.75" text-anchor="start">GSM6824680</text>
<polygon class="sig" points="273,1019.6 273,947 277.4,995.5 282.8,1019.6 288,947 293.4,898.5 297.4,947 301.4,922.7 304.4,947 307,995.5 317.6,1019.6 331,995.5 337.6,1019.6 344.4,995.5 360.4,1019.6 375,995.5 379.2,947 384.4,971.2 391.4,995.5 395.4,971.2 398.2,995.5 408.8,947 414.4,995.5 426.4,1019.6 441.2,947 443.8,971.2 447.8,947 457.4,971.2 465.4,995.5 468,1019.6 474.6,995.5 480,947 484,874.2 486.8,898.5 497.6,947 503,1019.6 511,971.2 513.6,947 519,995.5 528.4,1019.6 536.4,947 541.6,874.2 545.8,922.7 548.4,995.5 551.2,971.2 554,995.5 559.2,971.2 564.6,995.5 575.4,1019.6 590,995.5 602.4,971.2 611.6,995.5 615.6,1019.6 625.4,971.2 639.8,1019.6 648,971.2 653.4,922.7 656,971.2 661.4,1019.6 669.4,922.7 674.8,947 677.4,971.2 681.4,995.5 685.4,922.7 689.6,898.5 693.6,995.5 707.2,1019.6 720.4,995.5 725.8,971.2 731.2,995.5 734,947 736.6,971.2 739.2,947 743.2,995.5 747.4,971.2 751.4,995.5 756.8,1019.6 763.4,995.5 775.6,1019.6 801,971.2 813.2,995.5 830.6,1019.6 852,995.5 864.2,971.2 868,995.5 870,971.2 876.2,898.5 881.6,947 885.6,1019.6 900.4,971.2 904.4,947 911.2,995.5 938,1019.6 968.6,995.5 978.4,947 989.2,1019.6 1001.2,995.5 1007.8,1019.6 1013.2,995.5 1034.6,1019.6 1053.2,995.5 1057.4,947 1062.8,971.2 1067,995.5 1073.6,971.2 1077.6,947 1080.4,971.2 1087.2,995.5 1099.2,1019.6 1108.6,995.5 1112.6,971.2 1118,995.5 1124.6,1019.6 1134.4,922.7 1139.4,995.5 1143.4,971.2 1147.4,922.7 1150.2,947 1152.8,922.7 1156.8,947 1161,922.7 1165,947 1178.4,995.5 1190.4,1019.6 1205.2,995.5 1212,971.2 1216.2,947 1220.2,995.5 1224.2,1019.6 1230.8,971.2 1234.8,947 1239,971.2 1244.4,995.5 1263,1019.6 1279,995.5 1283.2,947 1288.6,971.2 1292.6,1019.6 1296.6,995.5 1303.4,898.5 1306,922.7 1311.4,995.5 1323.4,922.7 1327.6,947 1330.2,995.5 1334.4,971.2 1342.4,1019.6 1347.8,995.5 1351.6,947 1355.8,971.2 1361.2,1019.6 1367.8,995.5 1382.6,1019.6 1396,995.5 1401.4,971.2 1408.2,947 1415,971.2 1419,1019.6 1421.6,995.5 1421.6,1019.6"/>
<polyline class="ln" points="273,947 277.4,995.5 282.8,1019.7 288,947 293.4,898.5 297.4,947 301.4,922.7 304.4,947 307,995.5 317.6,1019.7 331,995.5 337.6,1019.7 344.4,995.5 360.4,1019.7 375,995.5 379.2,947 384.4,971.2 391.4,995.5 395.4,971.2 398.2,995.5 408.8,947 414.4,995.5 426.4,1019.7 441.2,947 443.8,971.2 447.8,947 457.4,971.2 465.4,995.5 468,1019.7 474.6,995.5 480,947 484,874.2 486.8,898.5 497.6,947 503,1019.7 511,971.2 513.6,947 519,995.5 528.4,1019.7 536.4,947 541.6,874.2 545.8,922.7 548.4,995.5 551.2,971.2 554,995.5 559.2,971.2 564.6,995.5 575.4,1019.7 590,995.5 602.4,971.2 611.6,995.5 615.6,1019.7 625.4,971.2 639.8,1019.7 648,971.2 653.4,922.7 656,971.2 661.4,1019.7 669.4,922.7 674.8,947 677.4,971.2 681.4,995.5 685.4,922.7 689.6,898.5 693.6,995.5 707.2,1019.7 720.4,995.5 725.8,971.2 731.2,995.5 734,947 736.6,971.2 739.2,947 743.2,995.5 747.4,971.2 751.4,995.5 756.8,1019.7 763.4,995.5 775.6,1019.7 801,971.2 813.2,995.5 830.6,1019.7 852,995.5 864.2,971.2 868,995.5 870,971.2 876.2,898.5 881.6,947 885.6,1019.7 900.4,971.2 904.4,947 911.2,995.5 938,1019.7 968.6,995.5 978.4,947 989.2,1019.7 1001.2,995.5 1007.8,1019.7 1013.2,995.5 1034.6,1019.7 1053.2,995.5 1057.4,947 1062.8,971.2 1067,995.5 1073.6,971.2 1077.6,947 1080.4,971.2 1087.2,995.5 1099.2,1019.7 1108.6,995.5 1112.6,971.2 1118,995.5 1124.6,1019.7 1134.4,922.7 1139.4,995.5 1143.4,971.2 1147.4,922.7 1150.2,947 1152.8,922.7 1156.8,947 1161,922.7 1165,947 1178.4,995.5 1190.4,1019.7 1205.2,995.5 1212,971.2 1216.2,947 1220.2,995.5 1224.2,1019.7 1230.8,971.2 1234.8,947 1239,971.2 1244.4,995.5 1263,1019.7 1279,995.5 1283.2,947 1288.6,971.2 1292.6,1019.7 1296.6,995.5 1303.4,898.5 1306,922.7 1311.4,995.5 1323.4,922.7 1327.6,947 1330.2,995.5 1334.4,971.2 1342.4,1019.7 1347.8,995.5 1351.6,947 1355.8,971.2 1361.2,1019.7 1367.8,995.5 1382.6,1019.7 1396,995.5 1401.4,971.2 1408.2,947 1415,971.2 1419,1019.7 1421.6,995.5"/>
<path class="ax" d="M259 874.2 H271 V1019.7 H259"/>
<text class="sm" transform="translate(252.5 877.5) scale(0.93 1)" font-size="13.8" text-anchor="end">7</text>
<text class="sm" transform="translate(252.5 1023) scale(0.93 1)" font-size="13.8" text-anchor="end">0</text>
<text transform="translate(73.7 952.95) scale(0.911 1)" font-size="25.75" text-anchor="start">GSM6824679</text>
<polygon class="sig" points="273,1181.3 273,1132.9 281.4,1181.3 287,1157.2 298.6,1084.4 302.8,1108.7 306.8,1084.4 311,1132.9 316.4,1157.2 323,1181.3 336.4,1132.9 343.2,1157.2 347.2,1132.9 352.4,1084.4 355.2,1132.9 360.4,1181.3 365.8,1157.2 375.2,1181.3 384.6,1157.2 390,1132.9 395.4,1108.7 399.4,1132.9 404.8,1157.2 421,1181.3 435.6,1157.2 439.6,1132.9 445.2,1157.2 462.6,1181.3 479.8,1157.2 484,1132.9 508.2,1181.3 519,1132.9 524.4,1157.2 529.6,1132.9 533.6,1108.7 539,1132.9 543.2,1157.2 549.8,1132.9 553.8,1157.2 556.4,1108.7 570,1181.3 578,1132.9 580.6,1084.4 583.4,1060.2 590,1108.7 596.8,1084.4 600.8,1132.9 606.2,1157.2 615.6,1181.3 625,1157.2 631.6,1132.9 638.4,1084.4 642.6,1108.7 645.2,1157.2 650.6,1181.3 656,1157.2 660,1132.9 664,1157.2 677.4,1108.7 681.4,1084.4 685.6,1108.7 688.2,1132.9 696.4,1181.3 701.6,1157.2 707.2,1181.3 716.4,1157.2 725.8,1181.3 732.6,1157.2 739.2,1181.3 744.6,1157.2 750,1181.3 755.4,1157.2 763.4,1181.3 768.8,1132.9 772.8,1108.7 776.8,1132.9 779.4,1157.2 782.2,1132.9 790.4,1181.3 798.4,1132.9 803.6,1157.2 810.4,1132.9 814.4,1157.2 817.2,1132.9 825.2,1181.3 829.2,1157.2 834.6,1132.9 838.6,1084.4 842.6,1060.2 846.8,1108.7 849.4,1157.2 853.4,1132.9 857.4,1084.4 862.8,1108.7 868.2,1084.4 873.6,1157.2 880.4,1181.3 887,1157.2 891,1132.9 896.4,1108.7 900.4,1084.4 903.2,1132.9 906,1157.2 914,1181.3 921.8,1157.2 924.6,1108.7 927.4,1084.4 932.8,1132.9 935.4,1181.3 944.6,1157.2 955.4,1132.9 959.4,1108.7 963.4,1084.4 967.6,1108.7 970.2,1157.2 981,1181.3 994.4,1157.2 999.8,1108.7 1003.8,1084.4 1007.8,1108.7 1010.6,1157.2 1021.4,1108.7 1025.6,1157.2 1030.8,1181.3 1037.6,1157.2 1048.4,1181.3 1056.2,1157.2 1060.4,1132.9 1065.6,1157.2 1071,1132.9 1075,1108.7 1079,1157.2 1083,1181.3 1088.4,1108.7 1095.4,1181.3 1106,1132.9 1110,1108.7 1115.4,1157.2 1120.6,1181.3 1128.6,1132.9 1135.4,1157.2 1140.8,1132.9 1144.8,1157.2 1151.4,1181.3 1158.2,1157.2 1163.6,1132.9 1170,1154.8 1174.4,1132.9 1182.4,1181.3 1187.8,1132.9 1193.2,1157.2 1195.8,1181.3 1202.6,1108.7 1206.6,1132.9 1209.4,1157.2 1216,1108.7 1220,1157.2 1226.8,1181.3 1240.2,1157.2 1253.6,1181.3 1260.4,1157.2 1264.4,1084.4 1268.4,1035.9 1271.2,1084.4 1278,1157.2 1295.4,1181.3 1311.4,1157.2 1316.8,1108.7 1322.2,1157.2 1326.2,1132.9 1331.6,1108.7 1338.4,1132.9 1346.4,1084.4 1359.8,1157.2 1370.6,1181.3 1378.6,1132.9 1381.4,1108.7 1386.8,1157.2 1393.4,1181.3 1400.2,1157.2 1404.2,1132.9 1410.8,1157.2 1414.8,1084.4 1418.8,1035.9 1421.6,1060.2 1421.6,1181.3"/>
<polyline class="ln" points="273,1132.9 281.4,1181.4 287,1157.2 298.6,1084.4 302.8,1108.7 306.8,1084.4 311,1132.9 316.4,1157.2 323,1181.4 336.4,1132.9 343.2,1157.2 347.2,1132.9 352.4,1084.4 355.2,1132.9 360.4,1181.4 365.8,1157.2 375.2,1181.4 384.6,1157.2 390,1132.9 395.4,1108.7 399.4,1132.9 404.8,1157.2 421,1181.4 435.6,1157.2 439.6,1132.9 445.2,1157.2 462.6,1181.4 479.8,1157.2 484,1132.9 508.2,1181.4 519,1132.9 524.4,1157.2 529.6,1132.9 533.6,1108.7 539,1132.9 543.2,1157.2 549.8,1132.9 553.8,1157.2 556.4,1108.7 570,1181.4 578,1132.9 580.6,1084.4 583.4,1060.2 590,1108.7 596.8,1084.4 600.8,1132.9 606.2,1157.2 615.6,1181.4 625,1157.2 631.6,1132.9 638.4,1084.4 642.6,1108.7 645.2,1157.2 650.6,1181.4 656,1157.2 660,1132.9 664,1157.2 677.4,1108.7 681.4,1084.4 685.6,1108.7 688.2,1132.9 696.4,1181.4 701.6,1157.2 707.2,1181.4 716.4,1157.2 725.8,1181.4 732.6,1157.2 739.2,1181.4 744.6,1157.2 750,1181.4 755.4,1157.2 763.4,1181.4 768.8,1132.9 772.8,1108.7 776.8,1132.9 779.4,1157.2 782.2,1132.9 790.4,1181.4 798.4,1132.9 803.6,1157.2 810.4,1132.9 814.4,1157.2 817.2,1132.9 825.2,1181.4 829.2,1157.2 834.6,1132.9 838.6,1084.4 842.6,1060.2 846.8,1108.7 849.4,1157.2 853.4,1132.9 857.4,1084.4 862.8,1108.7 868.2,1084.4 873.6,1157.2 880.4,1181.4 887,1157.2 891,1132.9 896.4,1108.7 900.4,1084.4 903.2,1132.9 906,1157.2 914,1181.4 921.8,1157.2 924.6,1108.7 927.4,1084.4 932.8,1132.9 935.4,1181.4 944.6,1157.2 955.4,1132.9 959.4,1108.7 963.4,1084.4 967.6,1108.7 970.2,1157.2 981,1181.4 994.4,1157.2 999.8,1108.7 1003.8,1084.4 1007.8,1108.7 1010.6,1157.2 1021.4,1108.7 1025.6,1157.2 1030.8,1181.4 1037.6,1157.2 1048.4,1181.4 1056.2,1157.2 1060.4,1132.9 1065.6,1157.2 1071,1132.9 1075,1108.7 1079,1157.2 1083,1181.4 1088.4,1108.7 1095.4,1181.4 1106,1132.9 1110,1108.7 1115.4,1157.2 1120.6,1181.4 1128.6,1132.9 1135.4,1157.2 1140.8,1132.9 1144.8,1157.2 1151.4,1181.4 1158.2,1157.2 1163.6,1132.9 1170,1154.8 1174.4,1132.9 1182.4,1181.4 1187.8,1132.9 1193.2,1157.2 1195.8,1181.4 1202.6,1108.7 1206.6,1132.9 1209.4,1157.2 1216,1108.7 1220,1157.2 1226.8,1181.4 1240.2,1157.2 1253.6,1181.4 1260.4,1157.2 1264.4,1084.4 1268.4,1035.9 1271.2,1084.4 1278,1157.2 1295.4,1181.4 1311.4,1157.2 1316.8,1108.7 1322.2,1157.2 1326.2,1132.9 1331.6,1108.7 1338.4,1132.9 1346.4,1084.4 1359.8,1157.2 1370.6,1181.4 1378.6,1132.9 1381.4,1108.7 1386.8,1157.2 1393.4,1181.4 1400.2,1157.2 1404.2,1132.9 1410.8,1157.2 1414.8,1084.4 1418.8,1035.9 1421.6,1060.2"/>
<path class="ax" d="M259 1035.9 H271 V1181.4 H259"/>
<text class="sm" transform="translate(252.5 1039.24) scale(0.93 1)" font-size="13.8" text-anchor="end">7</text>
<text class="sm" transform="translate(252.5 1184.74) scale(0.93 1)" font-size="13.8" text-anchor="end">0</text>
<text transform="translate(73.7 1114.69) scale(0.911 1)" font-size="25.75" text-anchor="start">GSM6824678</text>
<polygon class="sig" points="272,1343.1 272,1280.8 274.4,1301.6 277.4,1312 282.8,1301.6 288,1322.4 290.6,1291.2 294.6,1280.8 301.4,1270.4 306.8,1312 309.4,1280.8 312,1291.2 314.8,1280.8 317.4,1301.6 320.2,1280.8 331,1301.6 336.4,1322.4 341.8,1301.6 344.4,1280.8 347.2,1270.4 352.6,1291.2 355.2,1322.4 360.6,1280.8 363.2,1249.6 366,1270.4 368.8,1280.8 371.4,1322.4 374,1332.8 376.6,1301.6 380.6,1291.2 384.6,1312 390,1322.4 399.4,1343.1 411.4,1312 414,1301.6 416.8,1280.8 422.2,1301.6 433,1322.4 435.6,1332.8 439.6,1343.1 443.6,1280.8 446.4,1260 449.2,1249.6 452,1280.8 456,1291.2 464,1270.4 468,1280.8 472,1301.6 476,1291.2 480,1249.6 485.6,1239.3 489.6,1260 492.2,1280.8 500.4,1301.6 503,1322.4 505.6,1312 508.4,1322.4 511,1312 513.6,1322.4 517.6,1301.6 521.6,1312 524.4,1291.2 527,1301.6 532.4,1260 535.2,1280.8 537.8,1270.4 540.6,1312 548.6,1291.2 551.4,1301.6 554,1291.2 562,1312 564.6,1322.4 570,1291.2 572.6,1280.8 578,1291.2 583.4,1301.6 586,1312 588.8,1322.4 596.8,1343.1 604.8,1322.4 608.8,1332.8 615.6,1312 621,1301.6 626.4,1322.4 631.6,1332.8 634.4,1301.6 642.4,1291.2 650.6,1312 658.6,1291.2 661.4,1301.6 669.4,1270.4 677.4,1291.2 680.2,1280.8 682.8,1322.4 686.8,1332.8 694.8,1270.4 699,1291.2 707,1322.4 709.6,1301.6 712.4,1291.2 715.2,1270.4 717.8,1228.9 720.4,1236.1 723.2,1228.9 725.8,1280.8 728.6,1291.2 731.2,1322.4 735.2,1301.6 739.2,1291.2 743.2,1301.6 747.4,1322.4 750,1312 752.6,1332.8 760.6,1260 763.4,1270.4 766,1301.6 768.8,1322.4 771.4,1332.8 774.2,1322.4 778.2,1332.8 783.6,1301.6 787.6,1291.2 791.6,1301.6 795.6,1280.8 798.4,1301.6 803.6,1280.8 807.8,1291.2 813.2,1312 817.2,1332.8 819.8,1312 825.2,1291.2 828,1312 832,1332.8 836,1322.4 838.6,1301.6 841.4,1291.2 844,1301.6 846.6,1280.8 850.8,1301.6 854.8,1291.2 858.8,1270.4 862.8,1260 865.6,1280.8 868.2,1249.6 870,1254.8 873.6,1280.8 876.2,1301.6 880.2,1291.2 884.2,1270.4 887,1301.6 892.4,1280.8 895,1260 900.4,1280.8 903.2,1312 907.2,1332.8 912.4,1322.4 916.4,1291.2 919.2,1301.6 921.8,1280.8 925.8,1312 931.2,1322.4 936.6,1312 940.6,1301.6 943.4,1312 946,1332.8 950.2,1343.1 954.2,1332.8 962.2,1301.6 966.2,1291.2 973,1322.4 975.6,1312 978.4,1280.8 983.6,1260 986.4,1270.4 989,1291.2 991.8,1301.6 994.4,1322.4 1002.4,1280.8 1005.2,1291.2 1007.8,1270.4 1010.6,1291.2 1013.2,1260 1016,1249.6 1018.6,1270.4 1021.4,1280.8 1024,1249.6 1026.6,1260 1029.4,1280.8 1032,1291.2 1036.2,1322.4 1045.6,1270.4 1048.2,1312 1053.4,1249.6 1061.4,1270.4 1065.6,1249.6 1077.6,1312 1083,1332.8 1089.6,1322.4 1096.4,1270.4 1099.2,1260 1105.8,1291.2 1112.6,1301.6 1115.2,1322.4 1122,1270.4 1126,1260 1130,1197.7 1134,1228.9 1136.6,1291.2 1142,1312 1147.4,1322.4 1150,1332.8 1152.8,1322.4 1155.4,1332.8 1159.4,1312 1164.8,1301.6 1168.8,1260 1170,1265.2 1171.6,1280.8 1174.4,1270.4 1177.2,1312 1179.8,1270.4 1182.4,1291.2 1185.2,1280.8 1189.2,1291.2 1194.6,1301.6 1201.2,1322.4 1206.6,1312 1209.4,1322.4 1216,1291.2 1228.2,1260 1230.8,1312 1233.6,1301.6 1236.2,1322.4 1239,1291.2 1241.6,1312 1244.2,1291.2 1247,1312 1249.6,1291.2 1252.4,1301.6 1255,1280.8 1265.6,1332.8 1269.8,1312 1273.8,1301.6 1281.8,1270.4 1286,1301.6 1295.4,1312 1303.4,1322.4 1306,1301.6 1312.6,1270.4 1316.8,1280.8 1319.4,1301.6 1322.2,1312 1326.2,1322.4 1331.6,1301.6 1337,1312 1342.4,1332.8 1349,1322.4 1357.2,1332.8 1363.8,1322.4 1367.8,1291.2 1370.6,1280.8 1374.6,1301.6 1378.6,1312 1381.4,1301.6 1384,1312 1386.6,1291.2 1390.8,1301.6 1394.8,1322.4 1397.4,1291.2 1400.2,1301.6 1405.4,1280.8 1408.2,1260 1410.8,1280.8 1413.6,1291.2 1416.2,1322.4 1420.2,1301.6 1423,1291.2 1423,1343.1"/>
<polyline class="ln" points="272,1280.8 274.4,1301.6 277.4,1312 282.8,1301.6 288,1322.4 290.6,1291.2 294.6,1280.8 301.4,1270.4 306.8,1312 309.4,1280.8 312,1291.2 314.8,1280.8 317.4,1301.6 320.2,1280.8 331,1301.6 336.4,1322.4 341.8,1301.6 344.4,1280.8 347.2,1270.4 352.6,1291.2 355.2,1322.4 360.6,1280.8 363.2,1249.6 366,1270.4 368.8,1280.8 371.4,1322.4 374,1332.8 376.6,1301.6 380.6,1291.2 384.6,1312 390,1322.4 399.4,1343.2 411.4,1312 414,1301.6 416.8,1280.8 422.2,1301.6 433,1322.4 435.6,1332.8 439.6,1343.2 443.6,1280.8 446.4,1260 449.2,1249.6 452,1280.8 456,1291.2 464,1270.4 468,1280.8 472,1301.6 476,1291.2 480,1249.6 485.6,1239.3 489.6,1260 492.2,1280.8 500.4,1301.6 503,1322.4 505.6,1312 508.4,1322.4 511,1312 513.6,1322.4 517.6,1301.6 521.6,1312 524.4,1291.2 527,1301.6 532.4,1260 535.2,1280.8 537.8,1270.4 540.6,1312 548.6,1291.2 551.4,1301.6 554,1291.2 562,1312 564.6,1322.4 570,1291.2 572.6,1280.8 578,1291.2 583.4,1301.6 586,1312 588.8,1322.4 596.8,1343.2 604.8,1322.4 608.8,1332.8 615.6,1312 621,1301.6 626.4,1322.4 631.6,1332.8 634.4,1301.6 642.4,1291.2 650.6,1312 658.6,1291.2 661.4,1301.6 669.4,1270.4 677.4,1291.2 680.2,1280.8 682.8,1322.4 686.8,1332.8 694.8,1270.4 699,1291.2 707,1322.4 709.6,1301.6 712.4,1291.2 715.2,1270.4 717.8,1228.9 720.4,1236.1 723.2,1228.9 725.8,1280.8 728.6,1291.2 731.2,1322.4 735.2,1301.6 739.2,1291.2 743.2,1301.6 747.4,1322.4 750,1312 752.6,1332.8 760.6,1260 763.4,1270.4 766,1301.6 768.8,1322.4 771.4,1332.8 774.2,1322.4 778.2,1332.8 783.6,1301.6 787.6,1291.2 791.6,1301.6 795.6,1280.8 798.4,1301.6 803.6,1280.8 807.8,1291.2 813.2,1312 817.2,1332.8 819.8,1312 825.2,1291.2 828,1312 832,1332.8 836,1322.4 838.6,1301.6 841.4,1291.2 844,1301.6 846.6,1280.8 850.8,1301.6 854.8,1291.2 858.8,1270.4 862.8,1260 865.6,1280.8 868.2,1249.6 870,1254.8 873.6,1280.8 876.2,1301.6 880.2,1291.2 884.2,1270.4 887,1301.6 892.4,1280.8 895,1260 900.4,1280.8 903.2,1312 907.2,1332.8 912.4,1322.4 916.4,1291.2 919.2,1301.6 921.8,1280.8 925.8,1312 931.2,1322.4 936.6,1312 940.6,1301.6 943.4,1312 946,1332.8 950.2,1343.2 954.2,1332.8 962.2,1301.6 966.2,1291.2 973,1322.4 975.6,1312 978.4,1280.8 983.6,1260 986.4,1270.4 989,1291.2 991.8,1301.6 994.4,1322.4 1002.4,1280.8 1005.2,1291.2 1007.8,1270.4 1010.6,1291.2 1013.2,1260 1016,1249.6 1018.6,1270.4 1021.4,1280.8 1024,1249.6 1026.6,1260 1029.4,1280.8 1032,1291.2 1036.2,1322.4 1045.6,1270.4 1048.2,1312 1053.4,1249.6 1061.4,1270.4 1065.6,1249.6 1077.6,1312 1083,1332.8 1089.6,1322.4 1096.4,1270.4 1099.2,1260 1105.8,1291.2 1112.6,1301.6 1115.2,1322.4 1122,1270.4 1126,1260 1130,1197.7 1134,1228.9 1136.6,1291.2 1142,1312 1147.4,1322.4 1150,1332.8 1152.8,1322.4 1155.4,1332.8 1159.4,1312 1164.8,1301.6 1168.8,1260 1170,1265.2 1171.6,1280.8 1174.4,1270.4 1177.2,1312 1179.8,1270.4 1182.4,1291.2 1185.2,1280.8 1189.2,1291.2 1194.6,1301.6 1201.2,1322.4 1206.6,1312 1209.4,1322.4 1216,1291.2 1228.2,1260 1230.8,1312 1233.6,1301.6 1236.2,1322.4 1239,1291.2 1241.6,1312 1244.2,1291.2 1247,1312 1249.6,1291.2 1252.4,1301.6 1255,1280.8 1265.6,1332.8 1269.8,1312 1273.8,1301.6 1281.8,1270.4 1286,1301.6 1295.4,1312 1303.4,1322.4 1306,1301.6 1312.6,1270.4 1316.8,1280.8 1319.4,1301.6 1322.2,1312 1326.2,1322.4 1331.6,1301.6 1337,1312 1342.4,1332.8 1349,1322.4 1357.2,1332.8 1363.8,1322.4 1367.8,1291.2 1370.6,1280.8 1374.6,1301.6 1378.6,1312 1381.4,1301.6 1384,1312 1386.6,1291.2 1390.8,1301.6 1394.8,1322.4 1397.4,1291.2 1400.2,1301.6 1405.4,1280.8 1408.2,1260 1410.8,1280.8 1413.6,1291.2 1416.2,1322.4 1420.2,1301.6 1423,1291.2"/>
<path class="ax" d="M259 1197.7 H271 V1343.2 H259"/>
<text class="sm" transform="translate(252.5 1200.98) scale(0.93 1)" font-size="13.8" text-anchor="end">7</text>
<text class="sm" transform="translate(252.5 1346.48) scale(0.93 1)" font-size="13.8" text-anchor="end">0</text>
<text transform="translate(73.7 1276.43) scale(0.911 1)" font-size="25.75" text-anchor="start">GSM6824677</text>
<polygon class="sig" points="272,1504.8 272,1460.4 275,1473 277.4,1487.4 281.6,1490.6 285.4,1484 288.6,1491 294,1497.4 297.6,1501 301.4,1497.8 305.6,1501 320,1504.4 333.6,1501 341.4,1491 344.4,1484 347.6,1488.4 350,1497.4 352.6,1503 356.4,1497.4 360.4,1494.4 362.8,1497.4 365.6,1491 370,1494.4 376.6,1501 383.6,1497.4 387.6,1494 390,1491 392.6,1484 396.6,1487 400.8,1484 403.6,1490.6 407.6,1484 411.4,1487 414.2,1477.4 422.4,1497 427.4,1490.6 430.2,1473.6 435,1484.4 439.6,1490.2 444.4,1481 449,1473.6 451.6,1480.4 454.2,1473.6 457,1477 459.6,1467 462.4,1477 465,1480.4 468,1487.4 470.6,1483 473.4,1473.6 476,1470.6 478.8,1464 481.6,1460.4 484.4,1464 487,1470.6 489.6,1480.4 492,1467 494.8,1469 497.4,1460.4 501.6,1464 505.6,1470.6 508.4,1481 511,1488.4 513.6,1501 519,1497.8 527,1501 536.4,1494.4 544.4,1484 548.6,1491 551.4,1501 555.4,1494.4 559.4,1491 563.4,1501 567.4,1487.4 570,1473 572.6,1464 575.4,1477 578,1487.4 580.8,1494 583.4,1484 589.2,1491 594.4,1504.4 600.4,1501 605,1491 607.6,1481 610.4,1474 613.6,1482 616,1494 618.6,1491 624,1494.4 631,1500.6 637,1491 642.6,1484 645.6,1491 650.8,1497.4 656,1494.4 660,1491 664.4,1497.8 673,1501 683,1504.4 693.6,1497.8 699,1501 702,1497 706,1491 709.4,1488 712.6,1484 717,1491 722,1501 725.8,1484 730.2,1488 734,1503 739,1497.8 741.6,1481 747.4,1488 751.4,1503 755.4,1497.4 760.8,1491 763.4,1497.4 767.6,1501 770.6,1499 774.2,1494.4 779,1500.6 782.4,1497.8 786.6,1501 793,1504.4 798,1501.4 802.4,1497.8 806.6,1501.4 809.2,1504 813.2,1497.8 819.8,1494.4 825,1497.4 828,1500.6 830.6,1494.4 834.6,1491 838.6,1497.4 841.4,1501 851,1504.4 860,1501 864,1497.4 868,1484 870,1488 871.6,1490 873.6,1487.4 876.2,1501 884,1497.8 892.4,1491 895,1494 897.6,1491 902,1496 910,1501.4 923.4,1504.4 936.6,1501 940.6,1497.8 946,1502 950.2,1504 957,1497.4 960.8,1494.4 970,1501 983.6,1491 986.4,1497 989,1494.4 994.4,1500.6 999,1494.4 1002.4,1487.4 1005.4,1484.4 1007.8,1490.6 1012,1487.4 1016.6,1491 1021,1500.6 1025,1497 1029.6,1491 1033.6,1487.4 1037.6,1491 1041.6,1487 1044,1484.4 1048,1487.4 1050.6,1490.6 1056,1477.4 1058.8,1474 1062,1481 1064.4,1484 1067,1480.4 1070,1467 1073.4,1450.4 1077.4,1453.6 1080,1433 1082.8,1440 1085.6,1426.6 1089,1438 1091.6,1440.4 1094,1437 1096.2,1439 1099.4,1430 1103.4,1433.6 1107.6,1440.4 1110,1449.6 1112.6,1436.6 1115.4,1444 1118,1440.4 1120.6,1457 1123.4,1433 1126,1453.6 1129,1460.4 1132.6,1467 1136.6,1443.6 1142.2,1420 1145,1432 1147.4,1426.6 1150,1432 1152.8,1439.4 1155.4,1437 1158.2,1463.6 1163.4,1470.4 1166,1464 1170,1459 1171.6,1450.4 1175.6,1456.6 1179.6,1450.4 1184,1457 1187.8,1460.4 1190.6,1457 1193.2,1450.4 1195.6,1437 1198.4,1406.6 1201,1396.6 1203.8,1366 1208,1379.6 1212,1413 1216,1423 1220,1426.6 1222.6,1406.6 1225.6,1410 1228,1416.6 1230.8,1426.6 1233.6,1406.6 1236.6,1400 1239.4,1403.4 1241.6,1423.4 1244.2,1410 1247,1383 1249.6,1359 1252.4,1362.6 1255,1390 1258,1426.6 1263,1453.6 1265.6,1450.4 1268.4,1457 1271,1473.6 1273.6,1467 1276.4,1477.4 1279,1453.6 1281.8,1443.6 1284.4,1447 1287.4,1467 1290,1473.6 1292.6,1477.4 1295.4,1474 1298,1481 1301,1491 1314,1497.4 1316.6,1490.6 1319.2,1467 1322,1453.6 1327.4,1433.6 1330.2,1420 1333,1400 1335.6,1415 1338.6,1440.4 1341.6,1474 1343.6,1477 1346.4,1460.4 1349,1447 1351.6,1440.4 1354.4,1447 1357,1457 1359.6,1463.6 1362.4,1453.6 1365,1447 1367.8,1443.6 1370.6,1450.4 1373.2,1440.4 1376,1443.6 1378.6,1453.6 1389.4,1460.4 1392,1443.6 1394.8,1440.4 1397.4,1447 1400,1440.4 1406.6,1416.6 1410.8,1437 1413.4,1420 1416,1423 1418.8,1420 1421.6,1437 1423,1464 1423,1504.8"/>
<polyline class="ln" points="272,1460.4 275,1473 277.4,1487.4 281.6,1490.6 285.4,1484 288.6,1491 294,1497.4 297.6,1501 301.4,1497.8 305.6,1501 320,1504.4 333.6,1501 341.4,1491 344.4,1484 347.6,1488.4 350,1497.4 352.6,1503 356.4,1497.4 360.4,1494.4 362.8,1497.4 365.6,1491 370,1494.4 376.6,1501 383.6,1497.4 387.6,1494 390,1491 392.6,1484 396.6,1487 400.8,1484 403.6,1490.6 407.6,1484 411.4,1487 414.2,1477.4 422.4,1497 427.4,1490.6 430.2,1473.6 435,1484.4 439.6,1490.2 444.4,1481 449,1473.6 451.6,1480.4 454.2,1473.6 457,1477 459.6,1467 462.4,1477 465,1480.4 468,1487.4 470.6,1483 473.4,1473.6 476,1470.6 478.8,1464 481.6,1460.4 484.4,1464 487,1470.6 489.6,1480.4 492,1467 494.8,1469 497.4,1460.4 501.6,1464 505.6,1470.6 508.4,1481 511,1488.4 513.6,1501 519,1497.8 527,1501 536.4,1494.4 544.4,1484 548.6,1491 551.4,1501 555.4,1494.4 559.4,1491 563.4,1501 567.4,1487.4 570,1473 572.6,1464 575.4,1477 578,1487.4 580.8,1494 583.4,1484 589.2,1491 594.4,1504.4 600.4,1501 605,1491 607.6,1481 610.4,1474 613.6,1482 616,1494 618.6,1491 624,1494.4 631,1500.6 637,1491 642.6,1484 645.6,1491 650.8,1497.4 656,1494.4 660,1491 664.4,1497.8 673,1501 683,1504.4 693.6,1497.8 699,1501 702,1497 706,1491 709.4,1488 712.6,1484 717,1491 722,1501 725.8,1484 730.2,1488 734,1503 739,1497.8 741.6,1481 747.4,1488 751.4,1503 755.4,1497.4 760.8,1491 763.4,1497.4 767.6,1501 770.6,1499 774.2,1494.4 779,1500.6 782.4,1497.8 786.6,1501 793,1504.4 798,1501.4 802.4,1497.8 806.6,1501.4 809.2,1504 813.2,1497.8 819.8,1494.4 825,1497.4 828,1500.6 830.6,1494.4 834.6,1491 838.6,1497.4 841.4,1501 851,1504.4 860,1501 864,1497.4 868,1484 870,1488 871.6,1490 873.6,1487.4 876.2,1501 884,1497.8 892.4,1491 895,1494 897.6,1491 902,1496 910,1501.4 923.4,1504.4 936.6,1501 940.6,1497.8 946,1502 950.2,1504 957,1497.4 960.8,1494.4 970,1501 983.6,1491 986.4,1497 989,1494.4 994.4,1500.6 999,1494.4 1002.4,1487.4 1005.4,1484.4 1007.8,1490.6 1012,1487.4 1016.6,1491 1021,1500.6 1025,1497 1029.6,1491 1033.6,1487.4 1037.6,1491 1041.6,1487 1044,1484.4 1048,1487.4 1050.6,1490.6 1056,1477.4 1058.8,1474 1062,1481 1064.4,1484 1067,1480.4 1070,1467 1073.4,1450.4 1077.4,1453.6 1080,1433 1082.8,1440 1085.6,1426.6 1089,1438 1091.6,1440.4 1094,1437 1096.2,1439 1099.4,1430 1103.4,1433.6 1107.6,1440.4 1110,1449.6 1112.6,1436.6 1115.4,1444 1118,1440.4 1120.6,1457 1123.4,1433 1126,1453.6 1129,1460.4 1132.6,1467 1136.6,1443.6 1142.2,1420 1145,1432 1147.4,1426.6 1150,1432 1152.8,1439.4 1155.4,1437 1158.2,1463.6 1163.4,1470.4 1166,1464 1170,1459 1171.6,1450.4 1175.6,1456.6 1179.6,1450.4 1184,1457 1187.8,1460.4 1190.6,1457 1193.2,1450.4 1195.6,1437 1198.4,1406.6 1201,1396.6 1203.8,1366 1208,1379.6 1212,1413 1216,1423 1220,1426.6 1222.6,1406.6 1225.6,1410 1228,1416.6 1230.8,1426.6 1233.6,1406.6 1236.6,1400 1239.4,1403.4 1241.6,1423.4 1244.2,1410 1247,1383 1249.6,1359 1252.4,1362.6 1255,1390 1258,1426.6 1263,1453.6 1265.6,1450.4 1268.4,1457 1271,1473.6 1273.6,1467 1276.4,1477.4 1279,1453.6 1281.8,1443.6 1284.4,1447 1287.4,1467 1290,1473.6 1292.6,1477.4 1295.4,1474 1298,1481 1301,1491 1314,1497.4 1316.6,1490.6 1319.2,1467 1322,1453.6 1327.4,1433.6 1330.2,1420 1333,1400 1335.6,1415 1338.6,1440.4 1341.6,1474 1343.6,1477 1346.4,1460.4 1349,1447 1351.6,1440.4 1354.4,1447 1357,1457 1359.6,1463.6 1362.4,1453.6 1365,1447 1367.8,1443.6 1370.6,1450.4 1373.2,1440.4 1376,1443.6 1378.6,1453.6 1389.4,1460.4 1392,1443.6 1394.8,1440.4 1397.4,1447 1400,1440.4 1406.6,1416.6 1410.8,1437 1413.4,1420 1416,1423 1418.8,1420 1421.6,1437 1423,1464"/>
<path class="ax" d="M259 1359.4 H271 V1504.9 H259"/>
<text class="sm" transform="translate(252.5 1362.72) scale(0.93 1)" font-size="13.8" text-anchor="end">22</text>
<text class="sm" transform="translate(252.5 1508.22) scale(0.93 1)" font-size="13.8" text-anchor="end">0</text>
<text transform="translate(73.7 1438.17) scale(0.911 1)" font-size="25.75" text-anchor="start">GSM6824676</text>
<polygon class="sig" points="272,1666.6 272,1651 274.4,1645 279.4,1636 282.6,1637.6 287.6,1625.6 290.4,1605.6 293.2,1597 296,1582 301.4,1567.4 304.4,1569 307,1576 309.6,1585 312,1590 314.6,1594 317.4,1590 320,1593 325,1590 328,1578.6 331,1570 333.6,1562 336.4,1540.6 341.6,1521 344.4,1540 347.4,1538 350,1552 352.6,1564 355.4,1597 358,1606 360.6,1619 363.4,1627.4 366.4,1631 369,1634.4 371.6,1642 376.6,1656 379.6,1657.6 383,1660.6 388,1662.4 393,1664.4 398,1665.4 406,1666.2 418,1666.2 429,1665.4 433,1664.4 435.6,1664.8 438,1664.4 444,1666 458,1666.4 474,1665.2 480,1666 487,1665.2 492,1665.6 497.4,1664.8 504,1666.2 516,1666 522,1666.4 528,1666 540,1666.4 546,1666 550,1666.4 562,1664.8 570,1665.6 585,1666.3 600,1665.1 607.5,1666.3 615,1664.5 622.5,1666 627,1665.1 634.5,1666.3 643.5,1665.1 654,1666.3 663,1666.3 672,1665.1 679.5,1666.3 687.9,1665.1 696,1666.3 765,1666.3 775.5,1664.5 784.5,1666.3 789,1665.7 798,1664.2 810,1665.7 816,1666.3 825,1665.4 832.5,1663.9 835.5,1665.7 841.5,1665.1 849,1666.3 892.5,1666.3 903,1664.5 908.4,1665.7 913.5,1664.8 922.5,1666.3 981,1666.3 991.5,1664.8 999,1666.3 1020,1666.3 1050,1666.3 1056.6,1664.5 1071,1666.3 1088.4,1666.3 1095,1664.5 1102.5,1666 1107,1664.8 1113,1664.2 1122,1666.3 1146,1666 1155,1664.2 1159.5,1665.4 1170,1662.4 1176,1663.6 1182,1666.3 1188,1666 1200,1665.1 1227,1666.3 1257,1666 1263,1665.1 1275,1665.7 1290,1663 1302,1664.2 1309.5,1665.7 1320,1664.2 1330.5,1663.3 1344,1664.8 1351.5,1664.2 1362,1666 1374,1665.1 1392,1666 1401,1664.8 1411.5,1666.3 1419,1664.8 1423.5,1666.3 1423.5,1666.6"/>
<polyline class="ln" points="272,1651 274.4,1645 279.4,1636 282.6,1637.6 287.6,1625.6 290.4,1605.6 293.2,1597 296,1582 301.4,1567.4 304.4,1569 307,1576 309.6,1585 312,1590 314.6,1594 317.4,1590 320,1593 325,1590 328,1578.6 331,1570 333.6,1562 336.4,1540.6 341.6,1521 344.4,1540 347.4,1538 350,1552 352.6,1564 355.4,1597 358,1606 360.6,1619 363.4,1627.4 366.4,1631 369,1634.4 371.6,1642 376.6,1656 379.6,1657.6 383,1660.6 388,1662.4 393,1664.4 398,1665.4 406,1666.2 418,1666.2 429,1665.4 433,1664.4 435.6,1664.8 438,1664.4 444,1666 458,1666.4 474,1665.2 480,1666 487,1665.2 492,1665.6 497.4,1664.8 504,1666.2 516,1666 522,1666.4 528,1666 540,1666.4 546,1666 550,1666.4 562,1664.8 570,1665.6 585,1666.3 600,1665.1 607.5,1666.3 615,1664.5 622.5,1666 627,1665.1 634.5,1666.3 643.5,1665.1 654,1666.3 663,1666.3 672,1665.1 679.5,1666.3 687.9,1665.1 696,1666.3 765,1666.3 775.5,1664.5 784.5,1666.3 789,1665.7 798,1664.2 810,1665.7 816,1666.3 825,1665.4 832.5,1663.9 835.5,1665.7 841.5,1665.1 849,1666.3 892.5,1666.3 903,1664.5 908.4,1665.7 913.5,1664.8 922.5,1666.3 981,1666.3 991.5,1664.8 999,1666.3 1020,1666.3 1050,1666.3 1056.6,1664.5 1071,1666.3 1088.4,1666.3 1095,1664.5 1102.5,1666 1107,1664.8 1113,1664.2 1122,1666.3 1146,1666 1155,1664.2 1159.5,1665.4 1170,1662.4 1176,1663.6 1182,1666.3 1188,1666 1200,1665.1 1227,1666.3 1257,1666 1263,1665.1 1275,1665.7 1290,1663 1302,1664.2 1309.5,1665.7 1320,1664.2 1330.5,1663.3 1344,1664.8 1351.5,1664.2 1362,1666 1374,1665.1 1392,1666 1401,1664.8 1411.5,1666.3 1419,1664.8 1423.5,1666.3"/>
<path class="ax" d="M259 1521.2 H271 V1666.7 H259"/>
<text class="sm" transform="translate(252.5 1524.46) scale(0.885 1)" font-size="13.8" text-anchor="end">143</text>
<text class="sm" transform="translate(252.5 1669.96) scale(0.93 1)" font-size="13.8" text-anchor="end">0</text>
<text transform="translate(73.7 1599.91) scale(0.911 1)" font-size="25.75" text-anchor="start">GSM6824675</text>
<polygon class="sig" points="272,1828.3 272,1811 275,1790 280,1762 282.6,1726 285.4,1697 288,1682.4 290.6,1702 293.6,1736 296,1760 299,1780 301.6,1798 304,1809 307,1814.6 309.6,1815.2 312.4,1819 315,1822 319,1824 325,1824.6 328.4,1821 331,1821.6 333.6,1820.4 337,1822 341.6,1823 345,1821 348,1819 351,1822.4 354,1823.4 356,1822.6 358,1823.6 360.4,1822.6 364,1824.6 370,1825.8 376,1826.8 379.6,1826 387,1828 391,1826.8 396,1826.6 399,1827 405,1826 409,1826.8 414,1828.2 419,1827 424,1825.4 427,1825 431,1826.8 437,1827.6 444,1826.4 450,1827.2 456,1828.2 463,1827.2 470,1826.2 476,1827.4 484,1825.6 490,1826.6 496,1826.4 505,1825 509,1825.6 514,1827.2 525,1828.2 534,1827 541,1827.4 547,1826 551,1826.6 556,1828.2 562,1827.4 570,1826.8 582,1827.1 600,1828 607.5,1826.8 633,1826.8 645,1828 655.5,1826.8 660,1824.4 669,1821.4 675,1822.9 677.4,1825.3 681,1825 684,1826.2 693,1826.2 699,1827.4 711,1825.3 720,1826.8 732,1826.8 750,1826.8 756,1825 760.5,1825.3 763.5,1826.8 772.5,1825 778.5,1826.2 786,1828 792,1825 798,1819 802.5,1808.5 806.4,1803.4 810,1806.4 813,1815.4 819,1820.5 826.5,1826.5 837,1825 843,1826.5 847.5,1825.9 856.5,1828 867,1825.3 876,1827.1 885,1828 892.5,1826.8 903,1827.1 907.5,1826.2 913.5,1828 919.5,1826.5 942,1828 954,1826.8 972,1828 987,1827.1 999,1827.1 1014,1825 1020,1825.9 1026.6,1825 1033.5,1827.1 1047,1828 1065,1827.1 1072.5,1828 1078.5,1826.8 1084.5,1828 1092,1826.8 1099.5,1828 1107,1826.5 1115.4,1825 1118.4,1826.5 1128,1822.6 1134,1817.8 1139.4,1816.9 1144.5,1821.1 1149.6,1821.1 1153.5,1824.1 1161,1825.6 1165.5,1825.3 1176,1827.4 1183.5,1825.9 1189.5,1826.2 1198.5,1825.3 1203,1826.8 1212,1826.2 1220.4,1825 1227,1826.5 1231.5,1825.9 1237.5,1827.1 1242,1826.8 1254,1828 1266,1826.8 1273.5,1826.2 1278,1827.1 1282.5,1825 1287,1824.1 1293,1825.3 1298.4,1825 1305,1827.1 1310.4,1826.2 1317,1827.4 1330.5,1826.2 1336.5,1827.4 1345.5,1825.9 1353,1827.1 1365,1827.4 1378.5,1825.6 1384.5,1826.8 1393.5,1825.3 1399.5,1825 1410,1826.2 1419,1825.9 1422,1826.5 1422,1828.3"/>
<polyline class="ln" points="272,1811 275,1790 280,1762 282.6,1726 285.4,1697 288,1682.4 290.6,1702 293.6,1736 296,1760 299,1780 301.6,1798 304,1809 307,1814.6 309.6,1815.2 312.4,1819 315,1822 319,1824 325,1824.6 328.4,1821 331,1821.6 333.6,1820.4 337,1822 341.6,1823 345,1821 348,1819 351,1822.4 354,1823.4 356,1822.6 358,1823.6 360.4,1822.6 364,1824.6 370,1825.8 376,1826.8 379.6,1826 387,1828 391,1826.8 396,1826.6 399,1827 405,1826 409,1826.8 414,1828.2 419,1827 424,1825.4 427,1825 431,1826.8 437,1827.6 444,1826.4 450,1827.2 456,1828.2 463,1827.2 470,1826.2 476,1827.4 484,1825.6 490,1826.6 496,1826.4 505,1825 509,1825.6 514,1827.2 525,1828.2 534,1827 541,1827.4 547,1826 551,1826.6 556,1828.2 562,1827.4 570,1826.8 582,1827.1 600,1828 607.5,1826.8 633,1826.8 645,1828 655.5,1826.8 660,1824.4 669,1821.4 675,1822.9 677.4,1825.3 681,1825 684,1826.2 693,1826.2 699,1827.4 711,1825.3 720,1826.8 732,1826.8 750,1826.8 756,1825 760.5,1825.3 763.5,1826.8 772.5,1825 778.5,1826.2 786,1828 792,1825 798,1819 802.5,1808.5 806.4,1803.4 810,1806.4 813,1815.4 819,1820.5 826.5,1826.5 837,1825 843,1826.5 847.5,1825.9 856.5,1828 867,1825.3 876,1827.1 885,1828 892.5,1826.8 903,1827.1 907.5,1826.2 913.5,1828 919.5,1826.5 942,1828 954,1826.8 972,1828 987,1827.1 999,1827.1 1014,1825 1020,1825.9 1026.6,1825 1033.5,1827.1 1047,1828 1065,1827.1 1072.5,1828 1078.5,1826.8 1084.5,1828 1092,1826.8 1099.5,1828 1107,1826.5 1115.4,1825 1118.4,1826.5 1128,1822.6 1134,1817.8 1139.4,1816.9 1144.5,1821.1 1149.6,1821.1 1153.5,1824.1 1161,1825.6 1165.5,1825.3 1176,1827.4 1183.5,1825.9 1189.5,1826.2 1198.5,1825.3 1203,1826.8 1212,1826.2 1220.4,1825 1227,1826.5 1231.5,1825.9 1237.5,1827.1 1242,1826.8 1254,1828 1266,1826.8 1273.5,1826.2 1278,1827.1 1282.5,1825 1287,1824.1 1293,1825.3 1298.4,1825 1305,1827.1 1310.4,1826.2 1317,1827.4 1330.5,1826.2 1336.5,1827.4 1345.5,1825.9 1353,1827.1 1365,1827.4 1378.5,1825.6 1384.5,1826.8 1393.5,1825.3 1399.5,1825 1410,1826.2 1419,1825.9 1422,1826.5"/>
<path class="ax" d="M259 1682.9 H271 V1828.4 H259"/>
<text class="sm" transform="translate(252.5 1686.2) scale(0.885 1)" font-size="13.8" text-anchor="end">110</text>
<text class="sm" transform="translate(252.5 1831.7) scale(0.93 1)" font-size="13.8" text-anchor="end">0</text>
<text transform="translate(73.7 1761.65) scale(0.911 1)" font-size="25.75" text-anchor="start">GSM6824674</text>
<path d="M335 1931.8 H1362" stroke="#444" stroke-width="1" fill="none"/>
<rect x="330" y="1917.2" width="5.3" height="29" fill="#000"/>
<rect x="417" y="1917.2" width="6" height="29" fill="#000"/>
<rect x="711.3" y="1917.2" width="11.8" height="29" fill="#000"/>
<rect x="1074.9" y="1917.2" width="87" height="29" fill="#000"/>
<rect x="1315.2" y="1917.2" width="24.5" height="29" fill="#000"/>
<rect x="1361.6" y="1917.2" width="61.9" height="29" fill="#000"/>
<path d="M338.9 1925.9 L345.4 1931.8 L338.9 1937.7M361.6 1925.9 L368.1 1931.8 L361.6 1937.7M384.2 1925.9 L390.7 1931.8 L384.2 1937.7M406.9 1925.9 L413.4 1931.8 L406.9 1937.7M427.5 1925.9 L434 1931.8 L427.5 1937.7M450.2 1925.9 L456.7 1931.8 L450.2 1937.7M472.8 1925.9 L479.3 1931.8 L472.8 1937.7M495.5 1925.9 L502 1931.8 L495.5 1937.7M518.2 1925.9 L524.7 1931.8 L518.2 1937.7M540.9 1925.9 L547.4 1931.8 L540.9 1937.7M563.5 1925.9 L570 1931.8 L563.5 1937.7M586.2 1925.9 L592.7 1931.8 L586.2 1937.7M608.9 1925.9 L615.4 1931.8 L608.9 1937.7M631.5 1925.9 L638 1931.8 L631.5 1937.7M654.2 1925.9 L660.7 1931.8 L654.2 1937.7M676.9 1925.9 L683.4 1931.8 L676.9 1937.7M699.5 1925.9 L706 1931.8 L699.5 1937.7M725.4 1925.9 L731.9 1931.8 L725.4 1937.7M748.1 1925.9 L754.6 1931.8 L748.1 1937.7M770.7 1925.9 L777.2 1931.8 L770.7 1937.7M793.4 1925.9 L799.9 1931.8 L793.4 1937.7M816.1 1925.9 L822.6 1931.8 L816.1 1937.7M838.8 1925.9 L845.2 1931.8 L838.8 1937.7M861.4 1925.9 L867.9 1931.8 L861.4 1937.7M884.1 1925.9 L890.6 1931.8 L884.1 1937.7M906.8 1925.9 L913.3 1931.8 L906.8 1937.7M929.4 1925.9 L935.9 1931.8 L929.4 1937.7M952.1 1925.9 L958.6 1931.8 L952.1 1937.7M974.8 1925.9 L981.3 1931.8 L974.8 1937.7M997.4 1925.9 L1003.9 1931.8 L997.4 1937.7M1020.1 1925.9 L1026.6 1931.8 L1020.1 1937.7M1042.8 1925.9 L1049.3 1931.8 L1042.8 1937.7M1065.5 1925.9 L1072 1931.8 L1065.5 1937.7M1167.5 1925.9 L1174 1931.8 L1167.5 1937.7M1190.2 1925.9 L1196.7 1931.8 L1190.2 1937.7M1212.8 1925.9 L1219.3 1931.8 L1212.8 1937.7M1235.5 1925.9 L1242 1931.8 L1235.5 1937.7M1258.2 1925.9 L1264.7 1931.8 L1258.2 1937.7M1280.8 1925.9 L1287.3 1931.8 L1280.8 1937.7M1303.5 1925.9 L1310 1931.8 L1303.5 1937.7M1347.5 1925.9 L1354 1931.8 L1347.5 1937.7" stroke="#1a1a1a" stroke-width="1" fill="none"/>
<text transform="translate(798.1 1895.6) scale(0.943 1)" font-size="37.4" text-anchor="start">MAP3K14-AS1</text>
<path d="M271 1988.95 H1423.5" stroke="#333" stroke-width="1" fill="none"/>
<path d="M271 2017.5 H1423.5" stroke="#222" stroke-width="1" fill="none"/>
<path d="M335 2017.5 V2035M442.5 2017.5 V2060M550 2017.5 V2035M657.5 2017.5 V2035M765 2017.5 V2035M872.5 2017.5 V2035M980 2017.5 V2060M1087.5 2017.5 V2035M1195 2017.5 V2035M1302.5 2017.5 V2035M1410 2017.5 V2035" stroke="#444" stroke-width="1" fill="none"/>
<text transform="translate(442.9 2077) scale(0.952 1)" font-size="24.9" text-anchor="middle">45.25Mb</text>
<text transform="translate(980.4 2077) scale(0.952 1)" font-size="24.9" text-anchor="middle">45.26Mb</text>
<text transform="translate(75.1 2020.2) scale(1.021 1)" font-size="47.9" text-anchor="start">chr17</text>
</svg>
</body></html>
